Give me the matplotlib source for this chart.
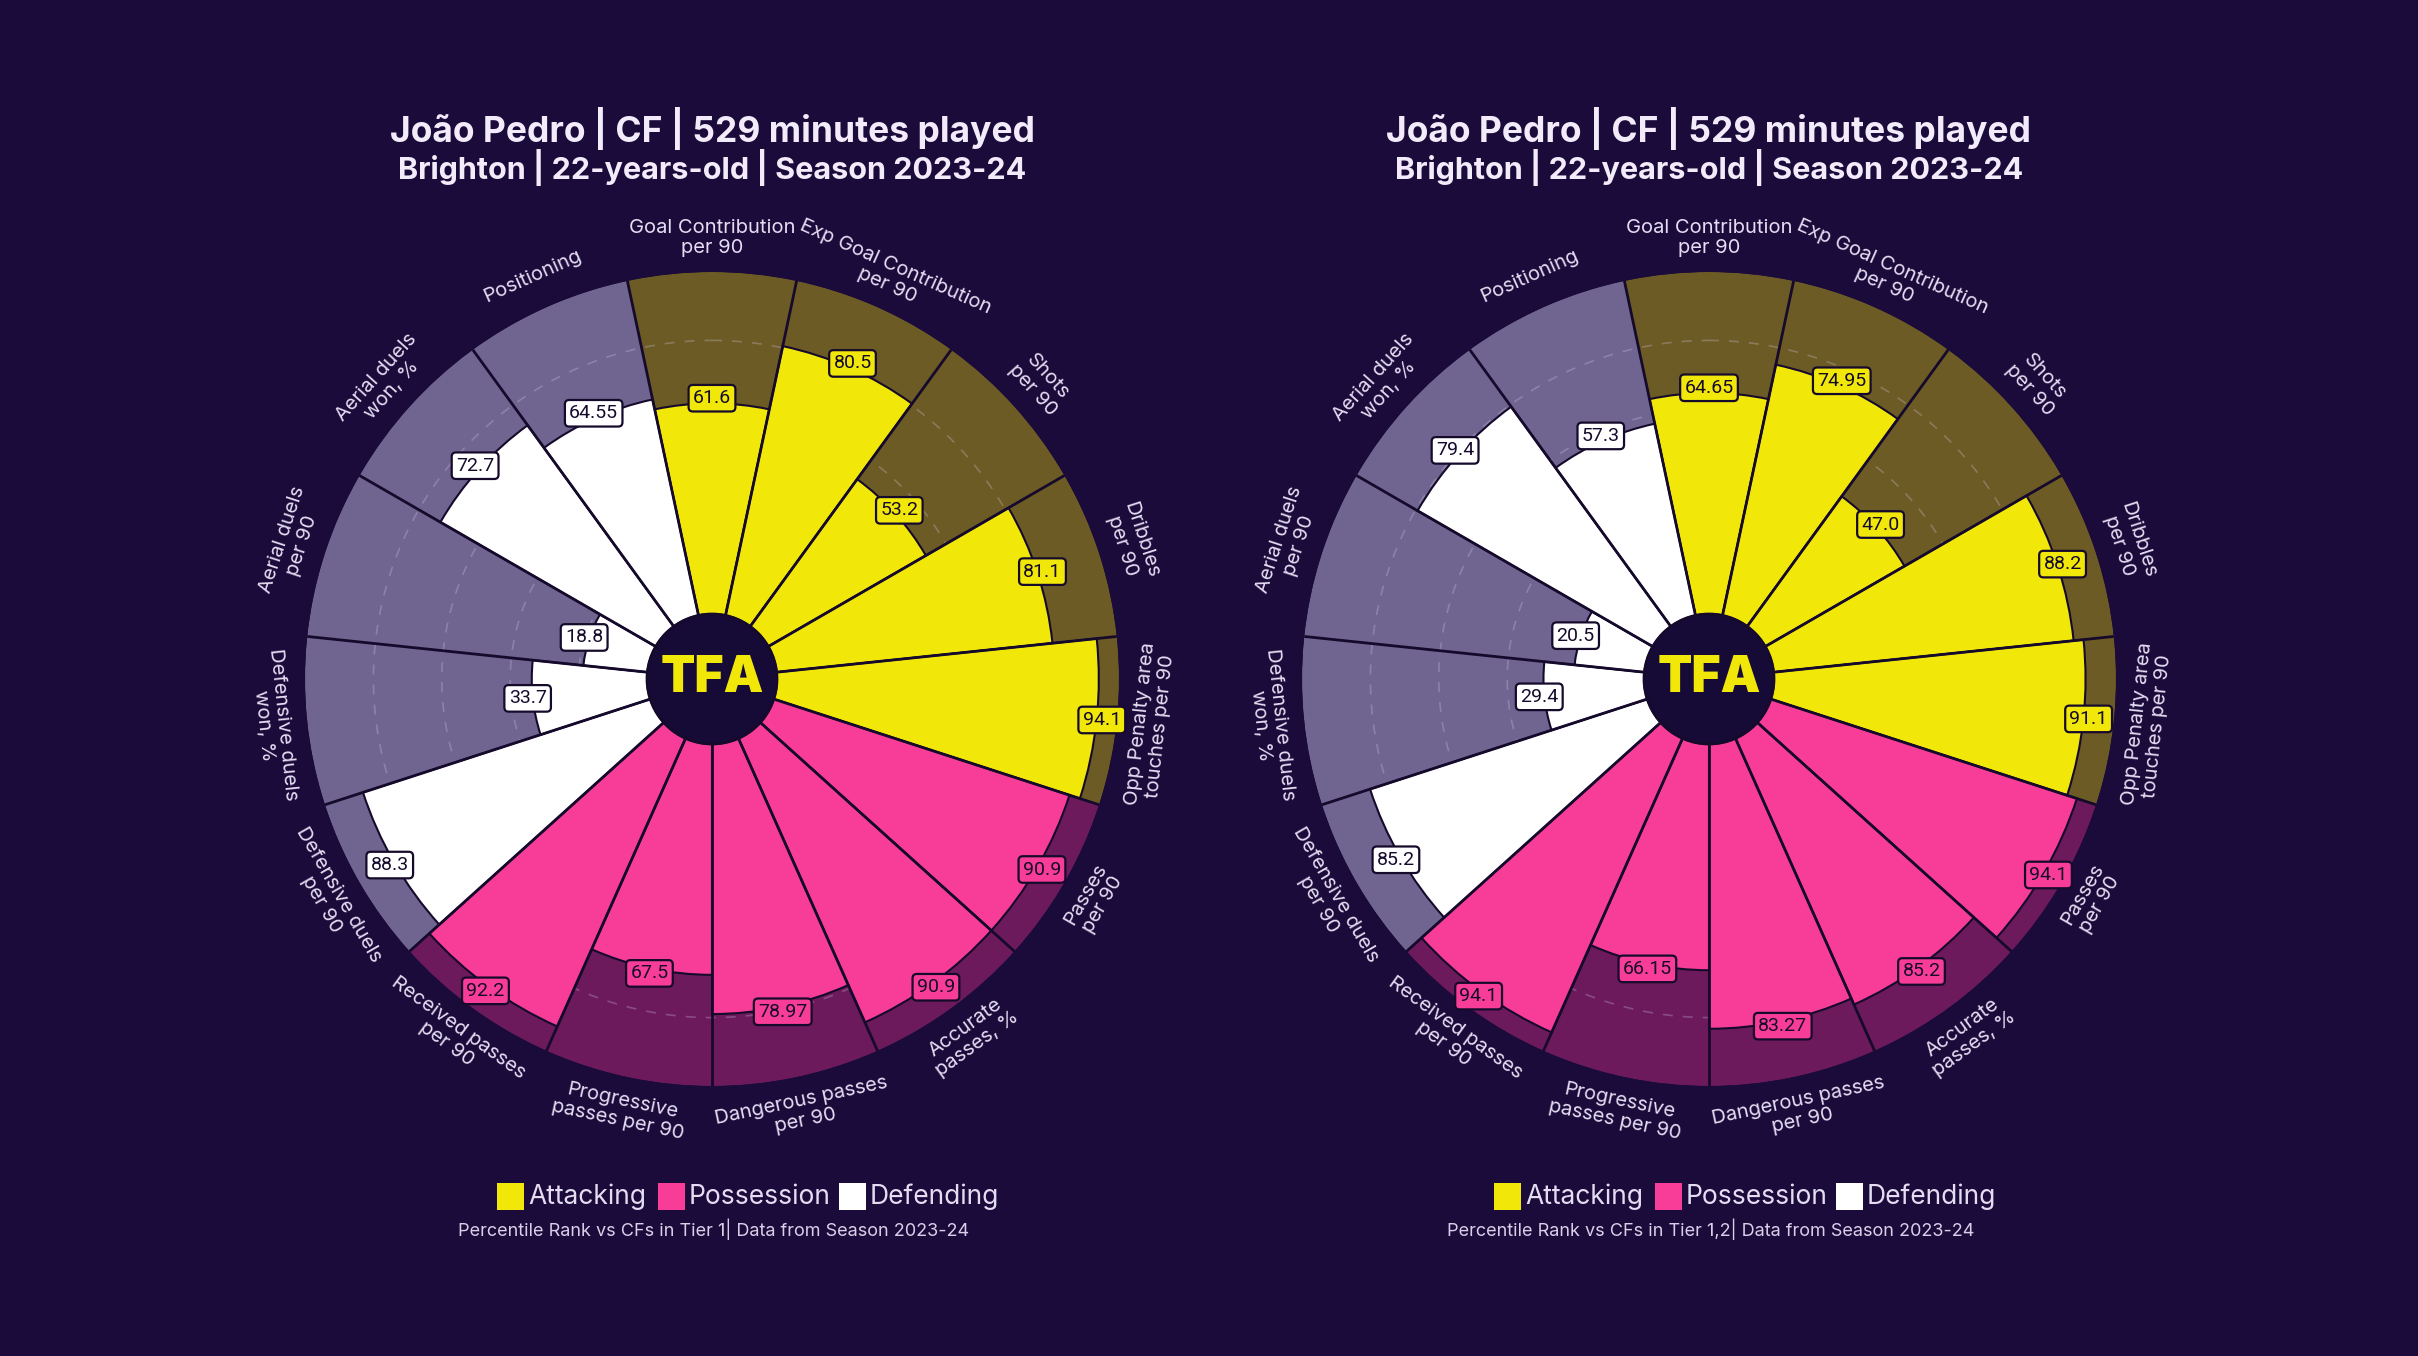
import numpy as np
import matplotlib.pyplot as plt
from matplotlib.patches import Circle, Rectangle

params = ["Goal Contribution\nper 90", "Exp Goal Contribution\nper 90", "Shots\nper 90",
          "Dribbles\nper 90", "Opp Penalty area\ntouches per 90", "Passes\nper 90",
          "Accurate\npasses, %", "Dangerous passes\nper 90", "Progressive\npasses per 90",
          "Received passes\nper 90", "Defensive duels\nper 90", "Defensive duels\nwon, %",
          "Aerial duels\nper 90", "Aerial duels\nwon, %", "Positioning"]
groups = ["Attacking"] * 5 + ["Possession"] * 5 + ["Defending"] * 5

values_tier1 = [61.6, 80.5, 53.2, 81.1, 94.1, 90.9, 90.9, 78.97, 67.5, 92.2,
                88.3, 33.7, 18.8, 72.7, 64.55]
values_tier12 = [64.65, 74.95, 47.0, 88.2, 91.1, 94.1, 85.2, 83.27, 66.15, 94.1,
                 85.2, 29.4, 20.5, 79.4, 57.3]

title1 = "João Pedro | CF | 529 minutes played"
title2 = "Brighton | 22-years-old | Season 2023-24"
notes = ["Percentile Rank vs CFs in Tier 1| Data from Season 2023-24",
         "Percentile Rank vs CFs in Tier 1,2| Data from Season 2023-24"]

bg = "#1a0b3b"
dark = "#160a2c"
txt = "#e4ddf2"
fill = {"Attacking": "#f1e80a", "Possession": "#f73d98", "Defending": "#ffffff"}
back = {"Attacking": "#6d5b25", "Possession": "#6c1a5c", "Defending": "#706590"}

W, H = 2418, 1356
fig = plt.figure(figsize=(W / 100, H / 100), dpi=100, facecolor=bg)

r0 = 19
radius_px = 407
n = len(params)
width = 2 * np.pi / n
theta = np.arange(n) * width


def pizza(cx, cy, values, note):
    ax = fig.add_axes([(cx - radius_px) / W, (H - cy - radius_px) / H,
                       2 * radius_px / W, 2 * radius_px / H], projection="polar")
    ax.set_theta_zero_location("N")
    ax.set_theta_direction(-1)
    ax.set_rorigin(-r0)
    ax.set_ylim(0, 100)
    ax.axis("off")

    ax.bar(theta, [100] * n, width=width, bottom=0,
           color=[back[g] for g in groups], edgecolor="none", zorder=1)
    t = np.linspace(0, 2 * np.pi, 500)
    for r in [20, 40, 60, 80]:
        ax.plot(t, [r] * len(t), color="#d6cdee", alpha=0.28, lw=1.2,
                ls=(0, (6, 6)), zorder=2)
    ax.bar(theta, values, width=width, bottom=0,
           color=[fill[g] for g in groups], edgecolor=dark, lw=1.5, zorder=3)
    for b in theta - width / 2:
        ax.plot([b, b], [0, 100], color=dark, lw=2, zorder=4)

    for th, v, g in zip(theta, values, groups):
        ax.text(th, v + 1.5, str(v), ha="center", va="center", fontsize=14,
                family="Roboto", color=dark, zorder=6,
                bbox=dict(boxstyle="round,pad=0.22", fc=fill[g], ec=dark, lw=1.6))

    for th, p in zip(theta, params):
        a = np.degrees(th)
        rot = -a if (a <= 90 or a >= 270) else 180 - a
        ax.text(th, 110, p, ha="center", va="center", rotation=rot,
                rotation_mode="anchor", fontsize=14.5, color=txt,
                family="Inter", linespacing=1.15, clip_on=False)

    ax.add_patch(Circle((0.5, 0.5), r0 / (100 + r0) * 0.5, transform=ax.transAxes,
                        fc="#160a36", ec=dark, lw=2, zorder=7, clip_on=False))
    ax.text(0.5, 0.5, "TFA", transform=ax.transAxes, ha="center", va="center",
            fontsize=36, fontweight="black", family="Inter", color="#f1e80a", zorder=8)

    fig.text(cx / W, 1 - 128 / H, title1, ha="center", va="center", fontsize=25.5,
             fontweight="bold", family="Inter", color="#f2ecfa")
    fig.text(cx / W, 1 - 168 / H, title2, ha="center", va="center", fontsize=22,
             fontweight="bold", family="Inter", color="#f2ecfa")

    # legend
    for g, dx in zip(["Attacking", "Possession", "Defending"], [-215, -54, 127]):
        fig.add_artist(Rectangle(((cx + dx) / W, (H - 1210) / H), 27 / W, 27 / H,
                                 transform=fig.transFigure, fc=fill[g], ec="none"))
        fig.text((cx + dx + 31) / W, 1 - 1197 / H, g, ha="left", va="center",
                 fontsize=19, family="Inter", color=txt)
    fig.text((cx + 2) / W, 1 - 1229 / H, note, ha="center", va="center",
             fontsize=13, family="Inter", color="#d8d0e8")


pizza(712, 679, values_tier1, notes[0])
pizza(1709, 679, values_tier12, notes[1])

fig.savefig("out.png", dpi=100, facecolor=bg)
